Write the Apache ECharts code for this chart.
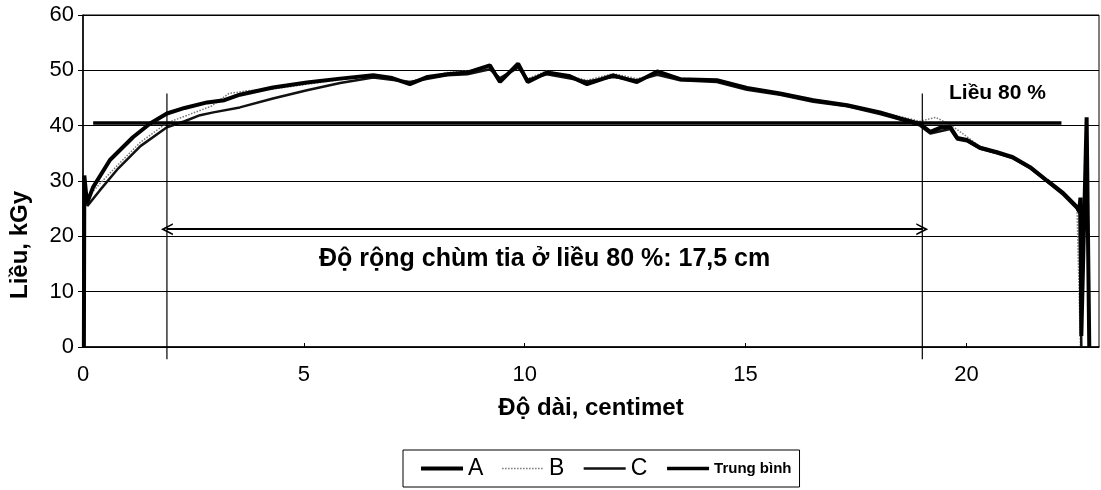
<!DOCTYPE html>
<html>
<head>
<meta charset="utf-8">
<title>Liều theo độ dài</title>
<script src="https://cdn.jsdelivr.net/npm/echarts@6/dist/echarts.min.js"></script>
<style>
  html, body { margin: 0; padding: 0; background: #fff; }
  #main { width: 1101px; height: 490px; }
</style>
</head>
<body>
<div id="main"></div>
<script>
// đường cong liều A, B, C: [độ dài cm, liều kGy]
var curveA = [[0.02,0],[0.03,31],[0.09,26],[0.23,28.9],[0.61,33.8],[1.13,37.9],[1.52,40.4],[1.9,42.2],[2.3,43.2],
  [2.81,44.2],[3.2,44.6],[3.55,45.6],[4.3,46.9],[5.07,47.8],[5.82,48.5],[6.57,49.1],[7.0,48.6],[7.4,47.5],[7.8,48.8],
  [8.24,49.3],[8.7,49.6],[9.21,50.9],[9.44,47.9],[9.85,51.2],[10.07,47.9],[10.5,49.6],[11.0,49.0],[11.41,47.5],
  [12.0,49.1],[12.54,47.9],[13.0,49.8],[13.52,48.4],[14.35,48.2],[15.03,46.8],[15.78,45.8],[16.53,44.6],[17.3,43.7],
  [18.04,42.4],[18.5,41.3],[18.95,40.3],[19.18,38.9],[19.4,39.6],[19.63,39.8],[19.79,37.8],[20.01,37.4],[20.31,36.0],
  [20.69,35.2],[21.05,34.3],[21.44,32.5],[21.82,30.1],[22.19,27.8],[22.5,25.3],[22.55,24.5],[22.58,27],[22.6,2],
  [22.72,41.5],[22.78,0]];
var curveB = [[0.02,0],[0.04,30],[0.1,27],[0.38,29.5],[0.8,33],[1.3,37],[1.9,40.5],[2.4,42],[2.9,43.5],[3.3,45.8],
  [3.7,46.3],[4.3,46.6],[5.07,47.5],[5.82,48.3],[6.57,49],[7.4,48],[8.24,49.6],[9.21,50.3],[9.44,48.4],[9.85,50.6],
  [10.07,48.5],[10.5,49.9],[11.41,48.2],[12.0,49.4],[12.54,48.5],[13.0,49.3],[13.52,48.6],[14.35,48.0],[15.03,46.9],
  [15.78,45.9],[16.53,44.8],[17.3,43.8],[18.04,42.5],[18.95,40.8],[19.3,41.5],[19.63,40.2],[20.01,38],[20.31,36.2],
  [21.05,34.5],[21.82,30.3],[22.19,28],[22.5,25.5],[22.58,0]];
var curveC = [[0.02,0],[0.04,29],[0.1,25.5],[0.38,28.3],[0.8,32.3],[1.3,36.3],[1.9,39.7],[2.3,40.8],[2.65,41.9],
  [2.95,42.4],[3.55,43.3],[4.3,44.9],[5.07,46.4],[5.82,47.7],[6.57,48.7],[7.4,47.9],[8.24,49.1],[8.7,49.3],[9.21,50.2],
  [9.44,48.6],[9.85,50.5],[10.07,48.3],[10.5,49.3],[11.41,48.0],[12.0,48.8],[12.54,48.2],[13.0,49.2],[13.52,48.2],
  [14.35,47.9],[15.03,46.5],[15.78,45.6],[16.53,44.3],[17.3,43.5],[18.04,42.1],[18.5,41.1],[18.95,40],[19.18,38.6],
  [19.63,39.4],[19.79,37.5],[20.01,37.2],[20.31,35.8],[20.69,35],[21.05,34.1],[21.44,32.3],[21.82,29.9],[22.19,27.5],
  [22.5,25],[22.56,24.2],[22.6,0]];
// mức liều 80 % (trung bình)
var avgX = [0.23, 22.15];
var avgY = 40.5;
// hai mép chùm tia ở liều 80 %
var edgeX = [1.9, 19.0];
var edgeY = [-2.2, 45.8];
var arrowY = 21.3;
var xMax = 23;
var yMax = 60;

var myChart = echarts.init(document.getElementById('main'));
var font = 'Liberation Sans';
var chevron = 'path://M0,10 L5,0 L10,10 L8.6,10 L5,3.2 L1.4,10 Z';

var option = {
    animation: false,
    textStyle: { fontFamily: font, color: '#000' },
    grid: { left: 83, right: 2, top: 15, bottom: 143, show: true, borderColor: '#000', borderWidth: 1 },
    legend: {
        data: [
            { name: 'A', lineStyle: { width: 4 } },
            { name: 'B', lineStyle: { width: 1.5 } },
            { name: 'C', lineStyle: { width: 2.5 } },
            { name: 'Trung bình', lineStyle: { width: 3.5 } }
        ],
        left: 403,
        top: 450,
        padding: [7, 8, 7, 16],
        borderColor: '#000',
        borderWidth: 1,
        itemWidth: 42,
        itemHeight: 12,
        itemGap: 18,
        itemStyle: { opacity: 0 },
        textStyle: {
            fontSize: 23, color: '#000', fontFamily: font,
            rich: { s: { fontSize: 15, fontWeight: 'bold', fontFamily: font } }
        },
        formatter: function (name) {
            return name === 'Trung bình' ? '{s|' + name + '}' : name;
        }
    },
    xAxis: {
        type: 'value', min: 0, max: xMax, interval: 5,
        name: 'Độ dài, centimet', nameLocation: 'middle', nameGap: 49,
        nameTextStyle: { fontSize: 24, fontWeight: 'bold', color: '#000' },
        axisLine: { lineStyle: { color: '#000', width: 1.5 } },
        axisTick: { inside: true, length: 4, lineStyle: { color: '#000' } },
        axisLabel: { fontSize: 22, color: '#000', margin: 17, showMaxLabel: false },
        splitLine: { show: false }
    },
    yAxis: {
        type: 'value', min: 0, max: yMax, interval: 10,
        axisLine: { show: true, lineStyle: { color: '#000', width: 1.5 } },
        axisTick: { show: true, length: 5, lineStyle: { color: '#000' } },
        axisLabel: { fontSize: 22, color: '#000', margin: 9 },
        splitLine: { lineStyle: { color: '#000', width: 1.2 } }
    },
    graphic: [{
        type: 'text', x: 20, y: 245, rotation: Math.PI / 2,
        style: { text: 'Liều, kGy', fontSize: 24, fontWeight: 'bold', fontFamily: font, fill: '#000', align: 'center', verticalAlign: 'middle' }
    }],
    series: [{
        name: 'B', type: 'line', data: curveB, symbol: 'none',
        lineStyle: { color: '#777', width: 1.5, type: 'dotted' }, itemStyle: { color: '#777' }
    }, {
        name: 'C', type: 'line', data: curveC, symbol: 'none',
        lineStyle: { color: '#111', width: 2.5 }, itemStyle: { color: '#111' }
    }, {
        name: 'A', type: 'line', data: curveA, symbol: 'none',
        lineStyle: { color: '#000', width: 4 }, itemStyle: { color: '#000' }
    }, {
        name: 'Trung bình', type: 'line', symbol: 'none',
        data: [[avgX[0], avgY], [avgX[1], avgY]],
        lineStyle: { color: '#000', width: 3.5 }, itemStyle: { color: '#000' },
        markPoint: {
            symbol: 'circle', symbolSize: 0,
            data: [{ coord: [20.7, 45.8], value: 'Liều 80 %' }],
            label: { show: true, position: 'inside', formatter: 'Liều 80 %', fontSize: 21, fontWeight: 'bold', color: '#000', fontFamily: font }
        }
    }, {
        name: 'edgeL', type: 'line', symbol: 'none', clip: false,
        data: [[edgeX[0], edgeY[0]], [edgeX[0], edgeY[1]]],
        lineStyle: { color: '#000', width: 1.2 }
    }, {
        name: 'edgeR', type: 'line', symbol: 'none', clip: false,
        data: [[edgeX[1], edgeY[0]], [edgeX[1], edgeY[1]]],
        lineStyle: { color: '#000', width: 1.2 },
        markLine: {
            silent: true,
            symbol: [chevron, chevron],
            symbolSize: [12, 12],
            lineStyle: { color: '#000', width: 2, type: 'solid' },
            label: {
                show: true, position: 'insideMiddleBottom', distance: 17,
                formatter: 'Độ rộng chùm tia ở liều 80 %: 17,5 cm',
                fontSize: 25, fontWeight: 'bold', color: '#000', fontFamily: font
            },
            data: [[{ coord: [edgeX[0], arrowY] }, { coord: [edgeX[1], arrowY] }]]
        }
    }]
};
myChart.setOption(option);
</script>
</body>
</html>
